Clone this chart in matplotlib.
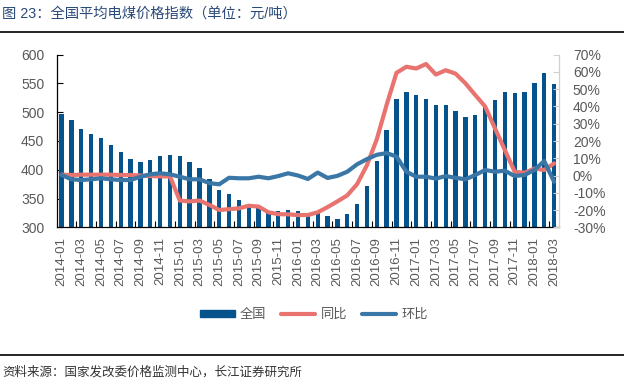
import matplotlib
matplotlib.use("Agg")
import matplotlib.pyplot as plt
import matplotlib.patches as mpatches
from matplotlib.lines import Line2D
import numpy as np
import pandas as pd

plt.rcParams['font.family'] = ['Liberation Sans', 'Noto Sans CJK SC', 'DejaVu Sans']

# monthly categories 2014-01 .. 2018-03
months = [p.strftime("%Y-%m") for p in pd.period_range("2014-01", "2018-03", freq="M")]

# national average thermal coal price index (yuan/ton)
index_val = [497, 487, 471, 462, 455, 443, 431, 419, 413, 417, 424, 426,
             424, 413, 403, 384, 364, 358, 348, 340, 334, 329, 328, 330,
             329, 322, 325, 320, 315, 323, 341, 371, 416, 469, 523, 535,
             530, 523, 513, 513, 502, 492, 495, 511, 521, 535, 533, 536,
             551, 568, 549]

# year on year (%)
yoy = [0.5, 0.3, 0.5, 0.5, 0.5, 0.5, 0.3, 0.3, 0.0, -0.3, -0.5, -0.5,
       -14.5, -15.0, -14.5, -17.0, -20.0, -19.5, -19.0, -17.5, -18.0, -21.3, -22.4, -22.5,
       -22.9, -22.9, -21.3, -18.3, -15.0, -11.5, -5.0, 6.0, 21.0, 41.0, 59.5, 63.0,
       62.0, 64.6, 58.5, 61.0, 59.0, 53.4, 46.6, 40.0, 27.3, 14.8, 2.2, 1.6,
       4.0, 3.2, 7.0]

# month on month (%)
mom = [0.3, -2.2, -2.6, -2.2, -1.6, -2.2, -2.6, -2.6, -0.7, 0.7, 1.3, 0.7,
       -0.7, -2.2, -2.2, -4.4, -5.1, -1.3, -1.6, -1.6, -0.7, -1.6, -0.3, 1.3,
       0.0, -2.0, 1.7, -1.4, -0.2, 2.2, 6.5, 9.5, 12.0, 13.0, 11.0, 2.2,
       -0.7, -0.7, -1.8, -0.3, -1.3, -2.2, 0.3, 3.2, 2.2, 2.8, -0.3, 0.3,
       3.2, 8.4, -3.6]

bar_color = "#05538a"
red = "#e8736f"
blue = "#3a77a6"
gray = "#595959"

fig = plt.figure(figsize=(6.24, 3.85), dpi=100)
ax = fig.add_axes([56.7 / 624, 1 - 227.3 / 385, (559 - 56.7) / 624, (227.3 - 54.7) / 385])

x = np.arange(len(months))
ax.bar(x, index_val, width=0.44, color=bar_color, zorder=2)
ax.set_xlim(-0.5, len(months) - 0.5)
ax.set_ylim(300, 600)
ax.set_yticks(np.arange(300, 601, 50))
ax.set_xticks(x[::2])
ax.set_xticklabels(months[::2], rotation=90, fontsize=9.5, color=gray)
ax.set_xticks(np.arange(1.5, len(months) - 1, 2), minor=True)
ax.tick_params(axis='x', which='major', length=0, pad=7)
ax.tick_params(axis='x', which='minor', direction='in', length=4, width=0.8, color='black')
ax.tick_params(axis='y', direction='in', length=4, width=0.8, labelsize=10, labelcolor=gray, pad=9)
for s in ['top', 'right']:
    ax.spines[s].set_visible(False)
ax.spines['left'].set_linewidth(0.9)
ax.spines['bottom'].set_linewidth(0.9)

ax2 = ax.twinx()
ax2.plot(x, yoy, color=red, linewidth=3, solid_joinstyle='round', solid_capstyle='round', zorder=3)
ax2.plot(x, mom, color=blue, linewidth=3, solid_joinstyle='round', solid_capstyle='round', zorder=4)
ax2.set_ylim(-30, 70)
ax2.set_yticks(np.arange(-30, 71, 10))
ax2.set_yticklabels([f"{v}%" for v in range(-30, 71, 10)])
ax2.tick_params(axis='y', direction='in', length=4, width=0.8, color='#d0d0d0',
                labelsize=10, labelcolor=gray, pad=10)
for s in ['top', 'left', 'bottom']:
    ax2.spines[s].set_visible(False)
ax2.spines['right'].set_color('#d0d0d0')
ax2.spines['right'].set_linewidth(0.9)

handles = [mpatches.Patch(color=bar_color),
           Line2D([0], [0], color=red, linewidth=3, solid_capstyle='round'),
           Line2D([0], [0], color=blue, linewidth=3, solid_capstyle='round')]
fig.legend(handles, ["全国", "同比", "环比"], loc='center', bbox_to_anchor=(314 / 624, 1 - 315 / 385),
           ncol=3, frameon=False, fontsize=9.5, labelcolor=gray, handlelength=2.6,
           handleheight=0.45, handletextpad=0.4, columnspacing=1.1)

# title, rules and source
fig.text(2 / 624, 1 - 14 / 385, "图 23：全国平均电煤价格指数（单位：元/吨）", fontsize=10.3,
         color="#2a4a78", va='center', ha='left')
fig.add_artist(Line2D([0, 1], [1 - 31.5 / 385, 1 - 31.5 / 385], color='black', linewidth=1.2))
fig.add_artist(Line2D([0, 1], [1 - 355 / 385, 1 - 355 / 385], color='black', linewidth=1.2))
fig.text(2 / 624, 1 - 372 / 385, "资料来源：国家发改委价格监测中心，长江证券研究所", fontsize=9,
         color="#333333", va='center', ha='left')

fig.savefig("out.png", dpi=100)
